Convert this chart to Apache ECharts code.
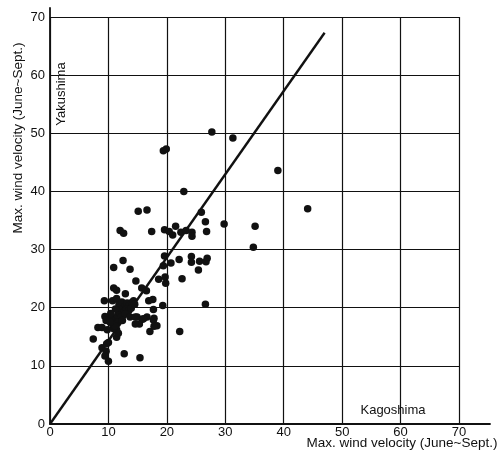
<!DOCTYPE html>
<html>
<head>
<meta charset="utf-8">
<script src="https://cdn.jsdelivr.net/npm/echarts@6/dist/echarts.min.js"></script>
<style>html,body{margin:0;padding:0;background:#fff;}#c{width:504px;height:457px;}</style>
</head>
<body>
<div id="c"></div>
<script>
// Kagoshima (x) vs Yakushima (y) max wind velocity, June~Sept.
const kagoshima = [
  19.4,19.9,27.7,31.3,39.0,22.9,15.1,16.6,25.9,44.1,35.1,34.8,26.6,29.8,
  12.0,12.6,17.4,19.6,20.4,21.0,21.5,22.4,23.3,24.3,24.3,26.8,
  10.9,12.5,13.7,19.6,19.4,20.7,22.1,24.2,24.2,25.6,25.4,26.9,26.7,
  22.6,18.6,19.7,19.8,14.7,
  10.9,11.4,15.7,16.5,17.6,16.9,9.3,10.7,11.4,12.9,
  11.8,12.3,12.8,13.2,13.6,14.0,14.3,12.0,12.6,13.1,13.5,11.6,12.2,12.9,11.2,11.0,11.6,10.5,10.8,11.4,10.4,12.4,13.9,14.5,
  13.7,14.9,15.8,16.6,15.3,18.3,17.8,
  7.4,8.2,8.9,9.4,9.6,8.9,9.6,9.4,10.0,10.0,9.7,11.4,11.7,10.9,11.1,10.3,9.8,
  12.7,15.4,17.1,22.2,26.6,19.3,17.7,14.6,14.6,16.0,17.7,17.8
];
const yakushima = [
  47.0,47.3,50.2,49.2,43.6,40.0,36.6,36.8,36.4,37.0,34.0,30.4,34.8,34.4,
  33.3,32.8,33.1,33.4,33.1,32.5,34.0,33.0,33.3,33.0,32.3,33.1,
  26.9,28.1,26.6,28.9,27.2,27.7,28.3,28.8,27.8,28.0,26.5,28.5,27.9,
  25.0,24.9,25.3,24.2,24.6,
  23.4,23.0,23.4,22.9,21.4,21.2,21.2,21.2,21.6,22.4,
  20.5,21.0,20.2,20.8,20.4,20.9,21.2,19.6,19.2,19.8,19.5,18.8,18.4,18.9,19.8,18.2,17.6,17.9,16.8,16.2,19.0,17.8,19.9,20.6,
  18.4,18.4,18.0,18.4,17.2,16.9,18.2,
  14.6,16.6,16.6,18.5,17.8,13.1,12.5,11.7,10.8,14.0,13.8,14.9,15.6,16.4,16.9,17.5,16.2,
  12.1,11.4,15.9,15.9,20.6,20.4,19.7,18.4,17.2,18.1,17.9,16.8
];
// Reference line y = k x (drawn from origin to its end)
const lineX = [0, 47.0];
const lineY = [0, 67.3];
const axisTicks = [0, 10, 20, 30, 40, 50, 60, 70];

const pts = kagoshima.map((x, i) => [x, yakushima[i]]);
const linePts = lineX.map((x, i) => [x, lineY[i]]);
const FONT = 'Liberation Sans, Arial, sans-serif';
const INK = '#111';

const chart = echarts.init(document.getElementById('c'));
chart.setOption({
  backgroundColor: '#fff',
  animation: false,
  grid: [
    {left: 50, right: 45, top: 17, bottom: 33},
    {left: 50, right: 14, top: 8, bottom: 33}
  ],
  xAxis: [
    {gridIndex: 0, type: 'value', min: axisTicks[0], max: axisTicks[axisTicks.length - 1], interval: 10,
     axisLine: {show: false}, axisTick: {show: false},
     axisLabel: {color: INK, fontFamily: FONT, fontSize: 13, margin: 2},
     splitLine: {show: true, lineStyle: {color: INK, width: 1.2}}},
    {gridIndex: 1, type: 'value', min: 0, max: 1,
     axisLine: {show: true, onZero: false, lineStyle: {color: INK, width: 1.8}},
     axisTick: {show: false}, axisLabel: {show: false}, splitLine: {show: false}}
  ],
  yAxis: [
    {gridIndex: 0, type: 'value', min: axisTicks[0], max: axisTicks[axisTicks.length - 1], interval: 10,
     axisLine: {show: false}, axisTick: {show: false},
     axisLabel: {color: INK, fontFamily: FONT, fontSize: 13, margin: 5},
     splitLine: {show: true, lineStyle: {color: INK, width: 1.2}}},
    {gridIndex: 1, type: 'value', min: 0, max: 1,
     axisLine: {show: true, onZero: false, lineStyle: {color: INK, width: 1.8}},
     axisTick: {show: false}, axisLabel: {show: false}, splitLine: {show: false}}
  ],
  series: [
    {type: 'line', xAxisIndex: 0, yAxisIndex: 0, data: linePts, symbol: 'none',
     lineStyle: {color: INK, width: 2.4}, z: 3},
    {type: 'scatter', xAxisIndex: 0, yAxisIndex: 0, data: pts, symbol: 'circle', symbolSize: 7.5,
     itemStyle: {color: INK, opacity: 1}, z: 4}
  ],
  graphic: [
    {type: 'text', x: 18, y: 138, rotation: Math.PI / 2,
     style: {text: 'Max. wind velocity (June~Sept.)', font: '13.5px ' + FONT, fill: INK, textAlign: 'center', textVerticalAlign: 'middle'}},
    {type: 'text', x: 61, y: 94, rotation: Math.PI / 2,
     style: {text: 'Yakushima', font: '13px ' + FONT, fill: INK, textAlign: 'center', textVerticalAlign: 'middle'}},
    {type: 'text', x: 393, y: 410,
     style: {text: 'Kagoshima', font: '13px ' + FONT, fill: INK, textAlign: 'center', textVerticalAlign: 'middle'}},
    {type: 'text', x: 402, y: 443,
     style: {text: 'Max. wind velocity (June~Sept.)', font: '13.5px ' + FONT, fill: INK, textAlign: 'center', textVerticalAlign: 'middle'}}
  ]
});
</script>
</body>
</html>
